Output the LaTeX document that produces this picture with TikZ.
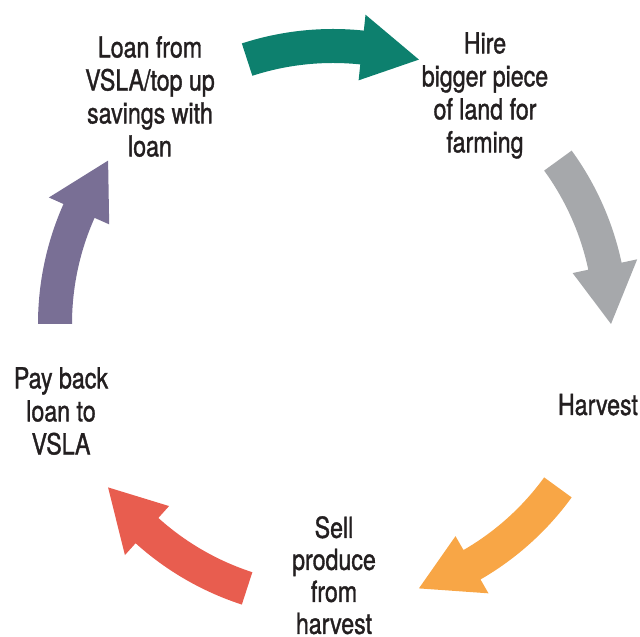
\documentclass[tikz,border=0pt]{standalone}
\usepackage{fontspec}
\setmainfont{TeX Gyre Heros}[FakeStretch=0.8,FakeBold=1.2]
\usetikzlibrary{calc}
\definecolor{txt}{HTML}{231F20}
\definecolor{cteal}{HTML}{0D806E}
\definecolor{cgray}{HTML}{A6A8AB}
\definecolor{corange}{HTML}{F8A646}
\definecolor{cred}{HTML}{E85D4F}
\definecolor{cpurple}{HTML}{796F95}
\begin{document}
\begin{tikzpicture}[x=1pt,y=1pt,
  lbl/.style={text=txt,align=center,inner sep=0pt,font=\fontsize{29}{33}\selectfont}]
\useasboundingbox (0,0) rectangle (640,637);
\coordinate (C) at (333,313);
\begin{scope}[shift={(C)}]
\foreach \a/\c in {90/cteal,18/cgray,-54/corange,-126/cred,162/cpurple}{
  \pgfmathsetmacro\ta{\a+18}
  \pgfmathsetmacro\hb{\a-6}
  \pgfmathsetmacro\tp{\a-18}
  \fill[\c] (\ta:261) -- (\ta:295) arc[start angle=\ta,end angle=\hb,radius=295]
    -- (\hb:311) -- (\tp:278) -- (\hb:245) -- (\hb:261)
    arc[start angle=\hb,end angle=\ta,radius=261] -- cycle;
}
\end{scope}
\node[lbl,anchor=north] (loan) at (150,601) {Loan from\\VSLA/top up\\savings with\\loan};
\node[lbl,anchor=north] (hire) at (485,605) {Hire\\bigger piece\\of land for\\farming};
\node[lbl,anchor=base] (harvest) at (598,222) {Harvest};
\node[lbl,anchor=north,font=\fontsize{29}{32}\selectfont] (sell) at (334,121) {Sell\\produce\\from\\harvest};
\node[lbl,anchor=north] (payback) at (61,270) {Pay back\\loan to\\VSLA};
\end{tikzpicture}
\end{document}
